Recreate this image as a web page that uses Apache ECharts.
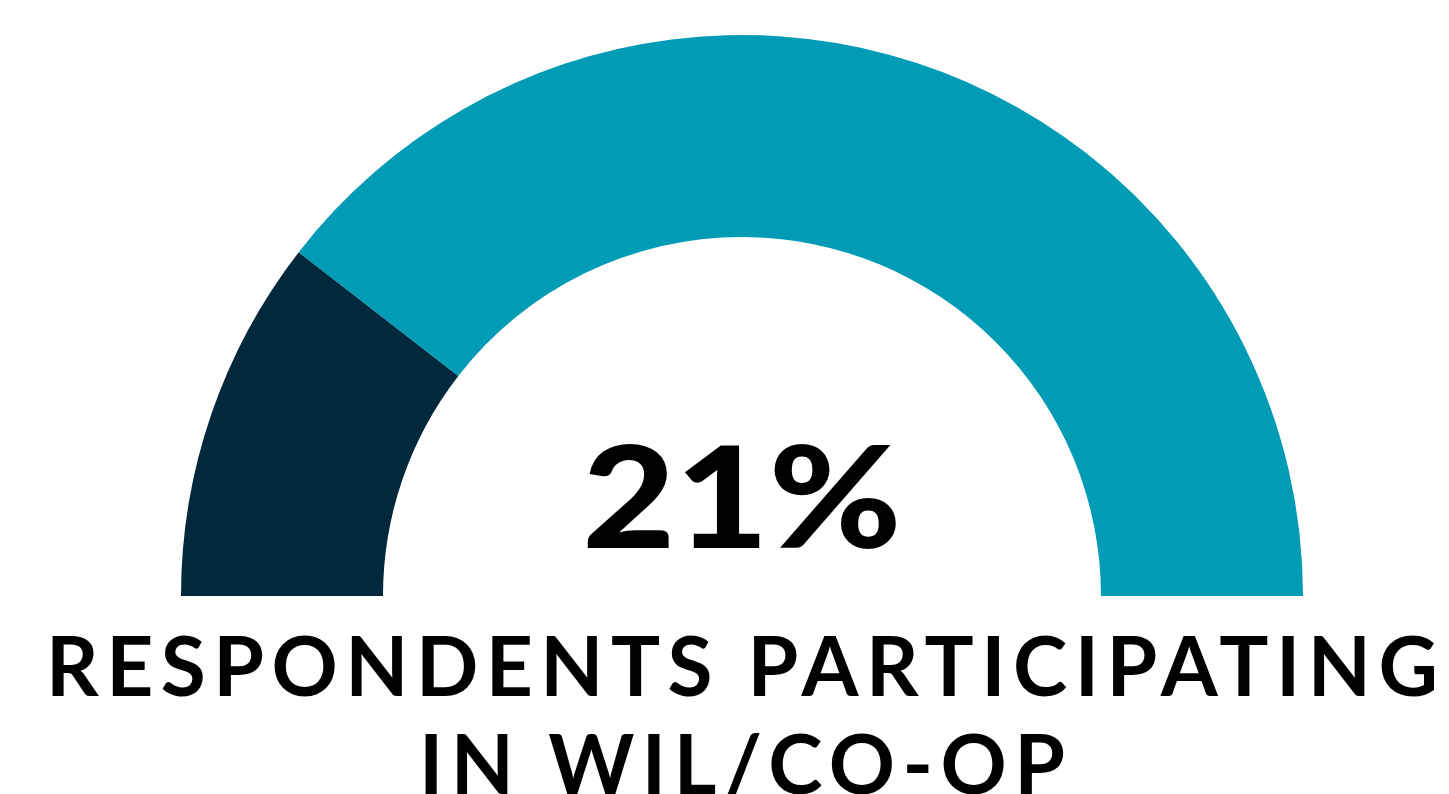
<!DOCTYPE html>
<html>
<head>
<meta charset="utf-8">
<script src="https://cdn.jsdelivr.net/npm/echarts@6/dist/echarts.min.js"></script>
<style>
  html, body { margin: 0; padding: 0; background: #ffffff; overflow: hidden; }
  #wrap { position: relative; width: 1449px; height: 794px; overflow: hidden; }
  #chart { position: absolute; left: 0; top: 0; width: 1449px; height: 794px; }
  .caption {
    position: absolute; left: 0;
    font-family: Lato, "Open Sans", sans-serif; font-weight: 700;
    font-size: 82px; line-height: 1; color: #000000; white-space: nowrap;
  }
</style>
</head>
<body>
<div id="wrap">
  <div id="chart"></div>
  <span class="caption" id="line1"></span>
  <span class="caption" id="line2"></span>
</div>
<script>
// Share of respondents in work-integrated learning / co-op
const categories = ['Participating in WIL/Co-op', 'Not participating'];
const values = [21, 79];
const colors = ['#02283e', '#009bb4'];
const captionLines = ['RESPONDENTS PARTICIPATING', 'IN WIL/CO-OP'];

const chart = echarts.init(document.getElementById('chart'), null, { renderer: 'canvas' });

chart.setOption({
  animation: false,
  series: [{
    type: 'pie',
    center: [742, 596],
    radius: [359, 561],
    startAngle: 180,
    endAngle: 0,
    clockwise: true,
    silent: true,
    label: { show: false },
    labelLine: { show: false },
    itemStyle: { borderWidth: 0 },
    data: categories.map((name, i) => ({
      name: name,
      value: values[i],
      itemStyle: { color: colors[i] }
    }))
  }],
  graphic: [{
    type: 'text',
    x: 742,
    y: 503,
    scaleX: 1.14,
    style: {
      text: values[0] + '%',
      fill: '#000000',
      font: '900 141px Lato, "Open Sans", sans-serif',
      align: 'center',
      verticalAlign: 'middle'
    }
  }]
});

// Widely tracked caption under the gauge, centred on the gauge axis
const axisX = 742;
const firstLineWidth = 1392;
const tops = [623, 721];
const els = captionLines.map((txt, i) => {
  const el = document.getElementById('line' + (i + 1));
  el.textContent = txt;
  el.style.top = tops[i] + 'px';
  return el;
});
function layoutCaption() {
  els.forEach(el => { el.style.letterSpacing = '0px'; });
  const natural = els[0].getBoundingClientRect().width;
  const spacing = (firstLineWidth - natural) / (captionLines[0].length - 1);
  els.forEach(el => {
    el.style.letterSpacing = spacing + 'px';
    const w = el.getBoundingClientRect().width - spacing;
    el.style.left = (axisX - w / 2) + 'px';
  });
}
layoutCaption();
if (document.fonts && document.fonts.ready) document.fonts.ready.then(layoutCaption);
</script>
</body>
</html>
